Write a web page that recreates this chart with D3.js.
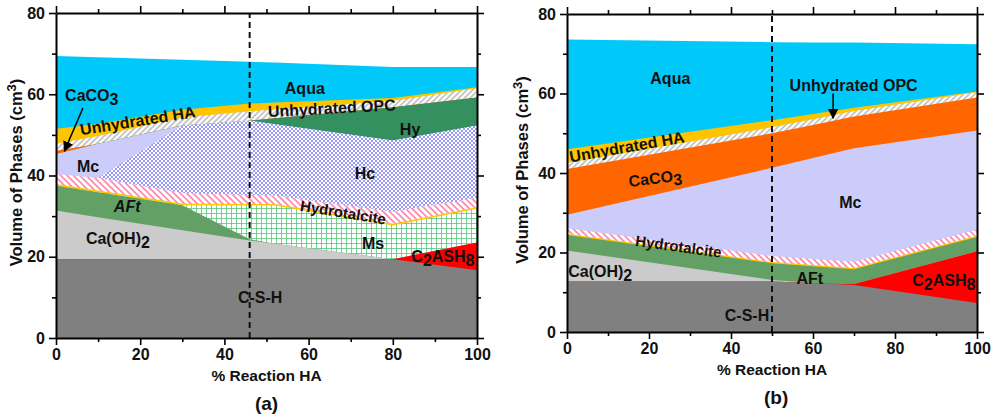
<!DOCTYPE html>
<html>
<head>
<meta charset="utf-8">
<script src="https://cdn.jsdelivr.net/npm/d3@7"></script>
<style>
  body { margin: 0; background: #fff; }
  svg { font-family: Arial, "Liberation Sans", sans-serif; font-weight: bold; }
</style>
</head>
<body>
<svg id="chart" width="994" height="420"></svg>
<script>
// ---- panel (a) data: thickness of each phase (cm3) at each % reaction ----
const xA = [0, 10, 30, 46, 52, 80, 100];
const cshA = [19.4, 19.4, 19.4, 19.4, 19.4, 19.4, 16.7];
const c2ash8A = [0, 0, 0, 0, 0, 0, 6.8];
const caohA = [12.0, 10.3, 7.1, 4.6, 3.8, 0, 0];
const aftA = [6.1, 6.2, 6.2, 0.3, 0, 0, 0];
const msA = [0, 0, 0, 8.3, 9.4, 8.3, 8.3];
const minorA = [0.4, 0.4, 0.4, 0.4, 0.4, 0.4, 0.4];
const htA = [2.5, 3.1, 2.6, 2.2, 2.1, 3.0, 2.3];
const hcA = [0, 0, 16.6, 18.3, 17.5, 17.5, 17.8];
const mcA = [4.9, 8.4, 0, 0, 0, 0, 0];
const hyA = [0, 0, 0, 0, 1.5, 8.2, 6.9];
const caco3A = [0.8, 0, 0, 0, 0, 0, 0];
const opcA = [1.7, 1.9, 2.0, 2.3, 2.2, 1.6, 2.3];
const haA = [3.7, 3.0, 1.9, 1.9, 1.7, 0.7, 0.2];
const aquaA = [17.9, 16.4, 12.3, 10.3, 9.8, 7.6, 5.0];

// ---- panel (b) data ----
const xB = [0, 50, 60, 70, 100];
const cshB = [12.7, 12.7, 12.3, 11.8, 7.3];
const c2ash8B = [0, 0, 0, 0.3, 13.0];
const caohB = [7.8, 0.4, 0, 0, 0];
const aftB = [3.9, 4.2, 4.25, 3.7, 3.6];
const minorB = [0.3, 0.3, 0.3, 0.3, 0.3];
const htB = [1.4, 1.5, 1.5, 1.6, 1.5];
const mcB = [3.4, 22.2, 25.4, 28.5, 25.0];
const caco3B = [11.5, 8.7, 8.35, 8.0, 8.3];
const opcB = [1.5, 1.5, 1.45, 1.4, 1.3];
const haB = [3.5, 1.8, 1.3, 0.8, 0.2];
const aquaB = [27.6, 19.6, 18.0, 16.4, 11.9];

const xTicks = [0, 20, 40, 60, 80, 100];
const xMinor = [10, 30, 50, 70, 90];
const yTicks = [0, 20, 40, 60, 80];
const yMinor = [10, 30, 50, 70];

const fills = {
    csh: '#808080', c2ash8: '#ff0000', caoh: '#cbcbcb', aft: '#62a065',
    ms: 'url(#msPat)', minor: '#ffc800', ht: 'url(#htPat)', hc: 'url(#hcPat)',
    mc: '#ccccfa', hy: '#34905e', caco3: '#ff6600', opc: 'url(#opcPat)',
    ha: '#ffc400', aqua: '#00c8f8'
};

const svg = d3.select('#chart');
const defs = svg.append('defs');

// patterns
function stripes(id, color, angle, gap, w) {
    const p = defs.append('pattern').attr('id', id)
        .attr('patternUnits', 'userSpaceOnUse')
        .attr('width', gap).attr('height', gap)
        .attr('patternTransform', `rotate(${angle})`);
    p.append('rect').attr('width', gap).attr('height', gap).attr('fill', '#fff');
    p.append('line').attr('x1', 1).attr('x2', 1).attr('y1', 0).attr('y2', gap)
        .attr('stroke', color).attr('stroke-width', w);
}
stripes('htPat', '#ff7fa6', -45, 4.5, 1.6);
stripes('opcPat', '#b5b5b5', 45, 4, 1.5);

const ms = defs.append('pattern').attr('id', 'msPat')
    .attr('patternUnits', 'userSpaceOnUse').attr('width', 5).attr('height', 5);
ms.append('rect').attr('width', 5).attr('height', 5).attr('fill', '#fff');
ms.append('path').attr('d', 'M0 0.5H5M0.5 0V5').attr('stroke', '#55c57a').attr('stroke-width', 0.8);

const hc = defs.append('pattern').attr('id', 'hcPat')
    .attr('patternUnits', 'userSpaceOnUse').attr('width', 4).attr('height', 4);
hc.append('rect').attr('width', 4).attr('height', 4).attr('fill', '#fff');
hc.append('path').attr('d', 'M0 0L4 4M4 0L0 4').attr('stroke', '#6b6bf2').attr('stroke-width', 0.7);

defs.append('marker').attr('id', 'arrow')
    .attr('viewBox', '0 0 10 10').attr('refX', 9).attr('refY', 5)
    .attr('markerWidth', 7).attr('markerHeight', 7).attr('orient', 'auto')
    .append('path').attr('d', 'M0 0L10 5L0 10z').attr('fill', '#000');

function drawPanel(p) {
    const g = svg.append('g').attr('transform', `translate(${p.left},${p.top})`);
    const x = d3.scaleLinear().domain([0, 100]).range([0, p.width]);
    const y = d3.scaleLinear().domain([0, 80]).range([p.height, 0]);

    const rows = p.xs.map((xv, i) => {
        const r = { x: xv };
        p.keys.forEach(k => { r[k] = p.series[k][i]; });
        return r;
    });
    const stacked = d3.stack().keys(p.keys)(rows);

    // paint from top layer down, each from 0 up to its top, so no seams appear
    const area = d3.area()
        .x(d => x(d.data.x))
        .y0(y(0))
        .y1(d => y(d[1]));
    g.selectAll('path.layer')
        .data(stacked.slice().reverse())
        .join('path')
        .attr('class', 'layer')
        .attr('fill', d => fills[d.key])
        .attr('d', area);

    // dashed line
    g.append('line')
        .attr('x1', x(p.dash)).attr('x2', x(p.dash))
        .attr('y1', y(0)).attr('y2', y(80))
        .attr('stroke', '#111').attr('stroke-width', 2)
        .attr('stroke-dasharray', '6,4');

    // axes
    const styleAxis = sel => {
        sel.selectAll('path.domain').attr('stroke', '#000').attr('stroke-width', 2);
        sel.selectAll('line').attr('stroke', '#000').attr('stroke-width', 1.6);
        sel.selectAll('text').attr('font-size', 16).attr('font-weight', 'bold').attr('fill', '#111');
    };
    const addAxis = (axis, major, minor, tr, labels) => {
        const a = g.append('g').attr('transform', tr)
            .call(axis.tickValues(major).tickSize(7).tickSizeOuter(0)
                .tickPadding(4).tickFormat(labels ? d3.format('d') : ''));
        styleAxis(a);
        const m = g.append('g').attr('transform', tr)
            .call(axis.tickValues(minor).tickSize(4).tickFormat(''));
        styleAxis(m);
        m.select('path.domain').remove();
        return a;
    };
    addAxis(d3.axisBottom(x), xTicks, xMinor, `translate(0,${p.height})`, true);
    addAxis(d3.axisTop(x), xTicks, xMinor, 'translate(0,0)', false);
    addAxis(d3.axisLeft(y), yTicks, yMinor, 'translate(0,0)', true);
    addAxis(d3.axisRight(y), yTicks, yMinor, `translate(${p.width},0)`, false);

    // axis titles
    const yt = g.append('text')
        .attr('transform', `translate(${p.yTitleX},${p.height / 2 - 3}) rotate(-90)`)
        .attr('text-anchor', 'middle').attr('font-size', 16.5).attr('fill', '#111');
    yt.append('tspan').text('Volume of Phases (cm');
    yt.append('tspan').attr('dy', -6).attr('font-size', 13).text('3');
    yt.append('tspan').attr('dy', 6).text(')');

    g.append('text')
        .attr('x', p.width / 2).attr('y', p.height + 43)
        .attr('text-anchor', 'middle').attr('font-size', 15.5).attr('fill', '#111')
        .text('% Reaction HA');

    g.append('text')
        .attr('x', x(p.tagX)).attr('y', p.height + 72)
        .attr('text-anchor', 'middle').attr('font-size', 19).attr('fill', '#111')
        .text(p.tag);

    // phase labels
    p.labels.forEach(l => {
        const t = g.append('text')
            .attr('transform', `translate(${x(l.x)},${y(l.y)}) rotate(${l.rot || 0})`)
            .attr('text-anchor', 'middle').attr('dy', '0.35em')
            .attr('font-size', l.size || 15).attr('fill', '#111')
            .attr('font-style', l.italic ? 'italic' : null);
        l.parts.forEach(part => {
            const s = t.append('tspan').text(part[0]);
            if (part[1] === 'sub') s.attr('dy', 4);
            if (part[1] === 'back') s.attr('dy', -4);
        });
    });

    p.arrows.forEach(a => {
        g.append('line')
            .attr('x1', x(a[0])).attr('y1', y(a[1]))
            .attr('x2', x(a[2])).attr('y2', y(a[3]))
            .attr('stroke', '#000').attr('stroke-width', 1.5)
            .attr('marker-end', 'url(#arrow)');
    });
}

drawPanel({
    left: 56, top: 13, width: 421, height: 325, dash: 46, tag: '(a)', tagX: 50, yTitleX: -34,
    xs: xA,
    keys: ['csh', 'c2ash8', 'caoh', 'aft', 'ms', 'minor', 'ht', 'hc', 'mc', 'hy', 'caco3', 'opc', 'ha', 'aqua'],
    series: { csh: cshA, c2ash8: c2ash8A, caoh: caohA, aft: aftA, ms: msA, minor: minorA, ht: htA,
        hc: hcA, mc: mcA, hy: hyA, caco3: caco3A, opc: opcA, ha: haA, aqua: aquaA },
    labels: [
        { x: 8.5, y: 59.8, parts: [['CaCO'], ['3', 'sub']], size: 16 },
        { x: 19.4, y: 53.5, rot: -9, parts: [['Unhydrated HA']], size: 16 },
        { x: 7.6, y: 42.3, parts: [['Mc']], size: 16 },
        { x: 16.9, y: 32.3, parts: [['AFt']], italic: true, size: 16 },
        { x: 14.7, y: 24.6, parts: [['Ca(OH)'], ['2', 'sub']], size: 16 },
        { x: 59.1, y: 61.5, parts: [['Aqua']], size: 16 },
        { x: 65.5, y: 56.6, rot: -3, parts: [['Unhydrated OPC']], size: 16 },
        { x: 84.1, y: 51.4, parts: [['Hy']], size: 16 },
        { x: 73.4, y: 40.6, parts: [['Hc']], size: 16 },
        { x: 68.2, y: 30.9, rot: 9, parts: [['Hydrotalcite']], size: 15 },
        { x: 75.3, y: 23.4, parts: [['Ms']], size: 16 },
        { x: 91.9, y: 20.0, parts: [['C'], ['2', 'sub'], ['ASH', 'back'], ['8', 'sub']], size: 16 },
        { x: 48.5, y: 10.1, parts: [['C-S-H']], size: 16 }
    ],
    arrows: [[6.4, 56.6, 2.0, 46.0]]
});

drawPanel({
    left: 567, top: 14, width: 410, height: 318, dash: 50, tag: '(b)', tagX: 51, yTitleX: -39,
    xs: xB,
    keys: ['csh', 'c2ash8', 'caoh', 'aft', 'minor', 'ht', 'mc', 'caco3', 'opc', 'ha', 'aqua'],
    series: { csh: cshB, c2ash8: c2ash8B, caoh: caohB, aft: aftB, minor: minorB, ht: htB,
        mc: mcB, caco3: caco3B, opc: opcB, ha: haB, aqua: aquaB },
    labels: [
        { x: 25.2, y: 63.8, parts: [['Aqua']], size: 16 },
        { x: 69.9, y: 62.1, parts: [['Unhydrated OPC']], size: 16 },
        { x: 14.6, y: 46.6, rot: -10, parts: [['Unhydrated HA']], size: 16 },
        { x: 21.5, y: 38.7, rot: -7, parts: [['CaCO'], ['3', 'sub']], size: 16 },
        { x: 69.1, y: 32.5, parts: [['Mc']], size: 16 },
        { x: 27.2, y: 21.5, rot: 8, parts: [['Hydrotalcite']], size: 15 },
        { x: 8.1, y: 15.2, parts: [['Ca(OH)'], ['2', 'sub']], size: 16 },
        { x: 59.2, y: 13.6, parts: [['AFt']], size: 16 },
        { x: 91.9, y: 13.1, parts: [['C'], ['2', 'sub'], ['ASH', 'back'], ['8', 'sub']], size: 16 },
        { x: 43.9, y: 4.3, parts: [['C-S-H']], size: 16 }
    ],
    arrows: [[64.9, 60.0, 64.9, 53.8]]
});
</script>
</body>
</html>
